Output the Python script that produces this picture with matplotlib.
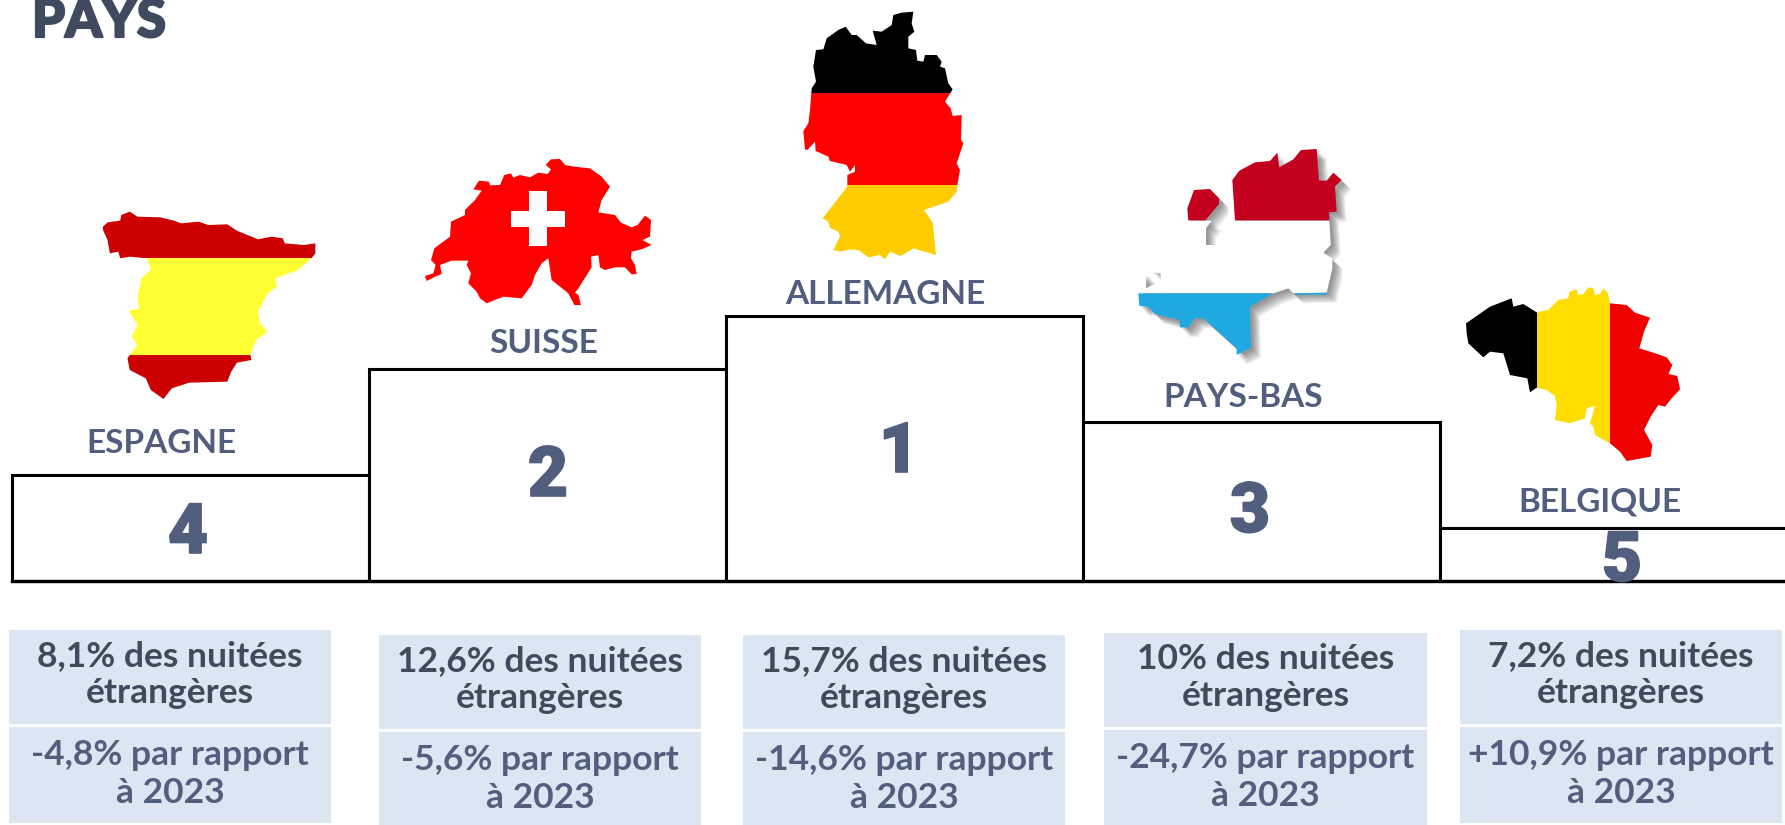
import matplotlib
matplotlib.use('Agg')
import matplotlib.pyplot as plt
import matplotlib.patheffects as pe
from matplotlib.patches import Polygon, Rectangle

# data
countries = ['ESPAGNE', 'SUISSE', 'ALLEMAGNE', 'PAYS-BAS', 'BELGIQUE']
ranks = [4, 2, 1, 3, 5]
podium_heights = [106, 212, 265, 159, 53]
share_lines = ['8,1% des nuitées', '12,6% des nuitées', '15,7% des nuitées',
               '10% des nuitées', '7,2% des nuitées']
evolution_lines = ['-4,8% par rapport', '-5,6% par rapport', '-14,6% par rapport',
                   '-24,7% par rapport', '+10,9% par rapport']

# layout, in pixels of the 1785x825 picture
BASELINE = 581
bar_left = [12, 369, 726, 1083, 1440]
BAR_W = 357
label_xy = [(161, 453), (544, 353), (885, 304), (1243, 407), (1600, 512)]
rank_xy = [(188, 553), (548, 496), (899, 472), (1250, 532), (1622, 581)]
box_left = [9, 379, 743, 1104, 1460]
box_right = [331, 701, 1065, 1427, 1782]
box_top = [630, 635, 635, 633, 630]

DARK = '#3f4a5f'
SLATE = '#525e7e'
BOX = '#dce6f2'
FONT = 'Lato'

# map outlines
spain = [(60, 110), (72, 97), (105, 92), (108, 75), (130, 65), (150, 80), (210, 82), (245, 92),
         (265, 100), (310, 95), (335, 105), (385, 103), (410, 122), (465, 148), (500, 140),
         (530, 145), (535, 160), (585, 165), (615, 160), (615, 190), (605, 205), (570, 240),
         (510, 265), (515, 290), (490, 310), (465, 365), (470, 400), (490, 425), (460, 450),
         (445, 495), (448, 510), (410, 518), (395, 545), (385, 575), (285, 578), (240, 595),
         (218, 627), (185, 600), (172, 565), (130, 540), (124, 505), (130, 495), (150, 465),
         (135, 440), (150, 405), (128, 362), (155, 355), (150, 325), (160, 265), (185, 240),
         (175, 205), (130, 200), (105, 205), (100, 185), (78, 190), (72, 150), (60, 120)]
swiss = [(30, 378), (55, 370), (62, 345), (48, 330), (58, 295), (105, 260), (108, 215), (150, 195),
         (150, 180), (180, 150), (200, 122), (175, 118), (192, 92), (222, 95), (225, 106),
         (255, 105), (268, 75), (288, 70), (295, 83), (315, 75), (345, 82), (370, 68), (398, 72),
         (408, 58), (392, 45), (408, 28), (435, 27), (450, 45), (478, 50), (525, 55), (560, 80),
         (585, 110), (560, 150), (550, 187), (600, 195), (618, 218), (650, 232), (668, 225),
         (690, 197), (708, 210), (705, 260), (682, 270), (710, 285), (682, 297), (650, 305),
         (648, 325), (660, 345), (665, 372), (650, 373), (630, 352), (600, 352), (570, 360),
         (555, 352), (550, 315), (528, 320), (530, 352), (490, 415), (480, 428), (490, 435),
         (498, 465), (478, 465), (460, 430), (410, 390), (400, 325), (380, 340), (360, 375),
         (350, 405), (320, 445), (265, 440), (215, 460), (195, 445), (185, 425), (160, 400),
         (168, 370), (155, 345), (160, 332), (110, 332), (75, 345), (80, 372), (60, 380), (35, 393)]
germany = [(95, 265), (108, 245), (100, 200), (108, 150), (130, 148), (140, 115), (175, 90),
           (197, 80), (215, 105), (230, 105), (258, 130), (290, 135), (278, 92), (305, 95),
           (335, 75), (340, 45), (365, 38), (400, 35), (395, 70), (403, 95), (385, 110), (385, 145),
           (408, 150), (412, 182), (430, 185), (435, 165), (470, 165), (485, 185), (480, 200),
           (495, 205), (505, 250), (518, 268), (495, 305), (512, 325), (518, 348), (545, 345),
           (543, 420), (550, 430), (530, 490), (540, 510), (532, 555), (530, 575), (505, 605),
           (432, 630), (458, 668), (468, 765), (400, 745), (362, 768), (330, 755), (315, 778),
           (300, 765), (265, 772), (235, 750), (210, 748), (180, 755), (160, 750), (180, 710),
           (175, 695), (150, 683), (145, 665), (128, 655), (202, 560), (202, 525), (225, 515),
           (225, 495), (210, 515), (200, 495), (150, 483), (145, 470), (107, 453), (105, 425),
           (82, 450), (75, 448), (70, 393), (85, 370), (90, 330)]
belgium = [(78, 160), (150, 110), (215, 85), (220, 110), (250, 102), (290, 127), (325, 120),
           (355, 90), (385, 85), (388, 65), (410, 58), (415, 75), (430, 72), (445, 52), (460, 55),
           (465, 75), (480, 72), (490, 55), (503, 68), (510, 100), (560, 105), (585, 128),
           (630, 143), (612, 185), (598, 235), (640, 248), (680, 262), (697, 285), (685, 312),
           (712, 318), (720, 358), (695, 385), (675, 410), (655, 405), (632, 440), (612, 480),
           (637, 525), (632, 560), (560, 573), (540, 545), (510, 520), (465, 495), (460, 470),
           (450, 460), (465, 408), (440, 415), (435, 445), (390, 460), (345, 450), (350, 405),
           (345, 378), (320, 360), (290, 353), (270, 367), (262, 325), (210, 315), (190, 250),
           (150, 245), (130, 262), (85, 220), (80, 190)]
nl_island = [(202, 235), (222, 180), (270, 177), (297, 205), (297, 222), (255, 272), (205, 272)]
nl_red = [(337, 150), (358, 122), (405, 97), (450, 93), (472, 68), (478, 112), (520, 88), (543, 60),
          (590, 57), (597, 152), (620, 152), (640, 128), (665, 150), (645, 170), (650, 245),
          (627, 247), (628, 272), (345, 272)]
nl_white = [(205, 272), (275, 272), (258, 295), (258, 345), (300, 345), (340, 300), (345, 272),
            (628, 272), (632, 345), (610, 368), (637, 385), (637, 415), (620, 488), (520, 490),
            (505, 475), (460, 490), (55, 490), (52, 432), (78, 430), (78, 475), (122, 452),
            (122, 430), (95, 425), (98, 380), (160, 355), (165, 330), (185, 300)]
nl_blue = [(55, 490), (460, 490), (390, 530), (393, 653), (350, 675), (350, 655), (250, 565),
           (225, 565), (205, 592), (180, 592), (178, 570), (105, 552), (85, 530), (58, 528)]
nl_strip = [(520, 490), (620, 488), (619, 494), (528, 494)]


def to_px(points, x0, y0, sx=3.0, sy=3.0):
    return [(x0 + x / sx, y0 + y / sy) for x, y in points]


def striped_map(ax, outline, bands, vertical=False):
    # bands: (start, end, colour), clipped to the country outline
    clip = Polygon(outline, closed=True, transform=ax.transData)
    for start, end, colour in bands:
        if vertical:
            patch = Rectangle((start, 0), end - start, 825, fc=colour, ec='none', zorder=3)
        else:
            patch = Rectangle((0, start), 1785, end - start, fc=colour, ec='none', zorder=3)
        ax.add_patch(patch)
        patch.set_clip_path(clip)


def heavy(width, colour):
    return [pe.withStroke(linewidth=width, foreground=colour)]


plt.rcParams['font.family'] = [FONT, 'DejaVu Sans']
fig = plt.figure(figsize=(17.85, 8.25), dpi=100)
ax = fig.add_axes([0, 0, 1, 1])
ax.set_xlim(0, 1785)
ax.set_ylim(825, 0)
ax.axis('off')

ax.text(32, 37, 'PAYS', fontsize=38, fontweight='black', color=DARK, ha='left', va='baseline',
        path_effects=heavy(1.6, DARK))

ax.bar(bar_left, [-h for h in podium_heights], width=BAR_W, bottom=BASELINE, align='edge',
       fc='white', ec='black', lw=2.2, zorder=2)
ax.plot([12, 1785], [BASELINE, BASELINE], color='black', lw=2.4, zorder=2)

for name, (lx, ly), rank, (rx, ry) in zip(countries, label_xy, ranks, rank_xy):
    ax.text(lx, ly, name, fontsize=24, fontweight='bold', color=SLATE,
            ha='center', va='baseline', zorder=4)
    ax.text(rx, ry, str(rank), fontsize=50, fontweight='black', family=['Roboto', 'DejaVu Sans'],
            color=SLATE, ha='center', va='baseline', zorder=4, path_effects=heavy(1.2, SLATE))

for left, right, top, share, evolution in zip(box_left, box_right, box_top,
                                              share_lines, evolution_lines):
    ax.add_patch(Rectangle((left, top), right - left, 94, fc=BOX, ec='none'))
    ax.add_patch(Rectangle((left, top + 97), right - left, 96, fc=BOX, ec='none'))
    mid = (left + right) / 2
    ax.text(mid, top + 36, share, fontsize=25.5, fontweight='bold', color=DARK, ha='center', va='baseline')
    ax.text(mid, top + 73, 'étrangères', fontsize=25.5, fontweight='bold', color=DARK, ha='center', va='baseline')
    ax.text(mid, top + 135, evolution, fontsize=25.5, fontweight='bold', color=SLATE, ha='center', va='baseline')
    ax.text(mid, top + 173, 'à 2023', fontsize=25.5, fontweight='bold', color=SLATE, ha='center', va='baseline')

# maps
striped_map(ax, to_px(spain, 80, 190, sx=2.613), [(190, 258.3, '#cc0000'), (258.3, 355, '#ffff33'),
                                                  (355, 410, '#cc0000')])
striped_map(ax, to_px(swiss, 415, 150), [(150, 320, '#ff0000')])
ax.add_patch(Rectangle((529.3, 191.3), 17.7, 54.7, fc='white', ec='none', zorder=4))
ax.add_patch(Rectangle((511, 210.7), 54.3, 16.3, fc='white', ec='none', zorder=4))
striped_map(ax, to_px(germany, 780, 0), [(0, 92.7, 'black'), (92.7, 185, '#ff0000'), (185, 270, '#ffcc00')])
striped_map(ax, to_px(belgium, 1440, 270), [(1440, 1537, 'black'), (1537, 1610, '#ffdd00'),
                                            (1610, 1700, '#f00000')], vertical=True)

# netherlands map with its soft drop shadow
nl_parts = [(nl_island, '#c4001f'), (nl_red, '#c4001f'), (nl_white, 'white'),
            (nl_blue, '#20a8e0'), (nl_strip, '#20a8e0')]
for offset in range(2, 11):
    for part, _ in nl_parts[:4]:
        shadow = [(x + offset, y + offset) for x, y in to_px(part, 1120, 130)]
        ax.add_patch(Polygon(shadow, closed=True, fc='#303030', ec='none', alpha=0.07, zorder=3))
for part, colour in nl_parts:
    ax.add_patch(Polygon(to_px(part, 1120, 130), closed=True, fc=colour, ec='none', zorder=3.5))

fig.savefig('out.png', dpi=100, facecolor='white')
